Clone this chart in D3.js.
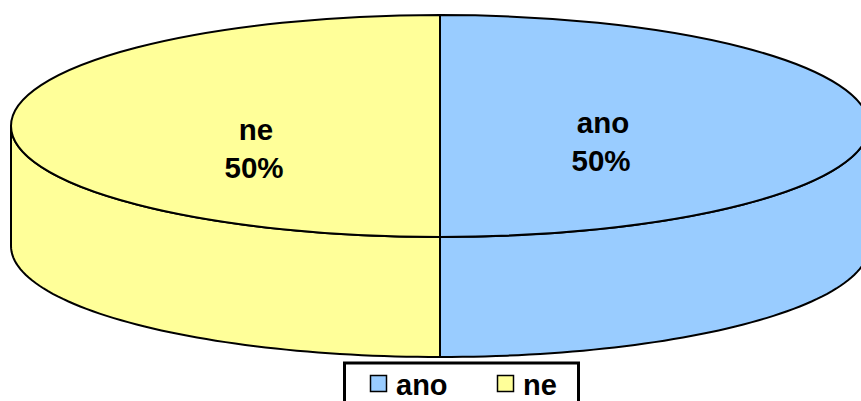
<!DOCTYPE html>
<html>
<head>
<meta charset="utf-8">
<script src="https://cdnjs.cloudflare.com/ajax/libs/d3/7.8.5/d3.min.js"></script>
<style>
  html, body { margin: 0; padding: 0; background: #fff; overflow: hidden; }
  text { font-family: "Liberation Sans", Arial, sans-serif; font-weight: bold; fill: #000; }
</style>
</head>
<body>
<div id="chart"></div>
<script>
// data
var categories = ["ano", "ne"];
var values = [50, 50];
var colors = ["#99ccff", "#ffff99"];

var width = 861, height = 401;
var cx = 440, cy = 126, rx = 429, ry = 111, depth = 120;
var line_w = 2;

var svg = d3.select("#chart").append("svg")
  .attr("width", width).attr("height", height)
  .style("display", "block");

var pie = d3.pie().sort(null).value(function (d) { return d; });
var slices = pie(values);
var total = d3.sum(values);

// point on the rim for a pie angle (0 = up, clockwise)
function rim(a, dy) {
  return [cx + rx * Math.sin(a), cy - ry * Math.cos(a) + dy];
}

var line = d3.line();

// side wall, only the part of each slice facing the viewer
slices.forEach(function (s, i) {
  var a0 = Math.max(s.startAngle, Math.PI / 2);
  var a1 = Math.min(s.endAngle, Math.PI * 1.5);
  if (a1 <= a0) return;
  var angles = d3.range(0, 61).map(function (k) { return a0 + (a1 - a0) * k / 60; });
  var pts = angles.map(function (a) { return rim(a, 0); })
    .concat(angles.slice().reverse().map(function (a) { return rim(a, depth); }));
  svg.append("path")
    .attr("d", line(pts) + "Z")
    .attr("fill", colors[i])
    .attr("stroke", "#000").attr("stroke-width", line_w);
});

// top face
var arc = d3.arc().innerRadius(0).outerRadius(1);
svg.append("g")
  .attr("transform", "translate(" + cx + "," + cy + ") scale(" + rx + "," + ry + ")")
  .selectAll("path")
  .data(slices).enter().append("path")
  .attr("d", arc)
  .attr("fill", function (d, i) { return colors[i]; })
  .attr("stroke", "#000").attr("stroke-width", line_w)
  .attr("vector-effect", "non-scaling-stroke");

// slice labels
var nameX = [603, 256], pctX = [601, 254], labelY = [133, 140];
slices.forEach(function (s, i) {
  var t = svg.append("text").attr("text-anchor", "middle").attr("font-size", 29.5);
  t.append("tspan").attr("x", nameX[i]).attr("y", labelY[i]).text(categories[i]);
  t.append("tspan").attr("x", pctX[i]).attr("y", labelY[i] + 38)
    .text(Math.round(values[i] / total * 100) + "%");
});

// legend, cut off by the bottom of the picture
svg.append("rect")
  .attr("x", 344.5).attr("y", 363).attr("width", 234).attr("height", 60)
  .attr("fill", "#fff").attr("stroke", "#000").attr("stroke-width", 3);

var legendX = [370, 497];
categories.forEach(function (c, i) {
  svg.append("rect")
    .attr("x", legendX[i] + 0.5).attr("y", 375.5).attr("width", 16).attr("height", 16)
    .attr("fill", colors[i]).attr("stroke", "#000").attr("stroke-width", 1.5);
  svg.append("text")
    .attr("x", legendX[i] + 26).attr("y", 395)
    .attr("font-size", 29)
    .text(c);
});
</script>
</body>
</html>
